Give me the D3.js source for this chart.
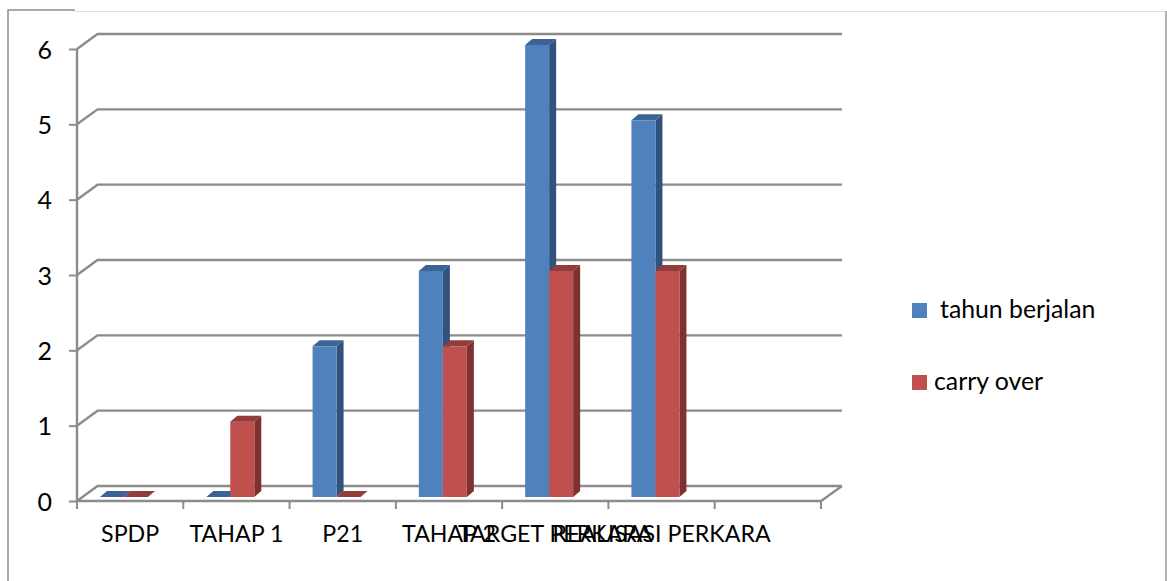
<!DOCTYPE html>
<html>
<head>
<meta charset="utf-8">
<script src="https://cdn.jsdelivr.net/npm/d3@7"></script>
<style>
html, body { margin: 0; padding: 0; background: #fff; overflow: hidden; }
text { font-family: Lato, "Open Sans", sans-serif; fill: #000; }
</style>
</head>
<body>
<svg id="chart"></svg>
<script>
// the last slot on the axis is empty in the original
const categories = ["SPDP", "TAHAP 1", "P21", "TAHAP 2", "TARGET PERKARA", "REALISASI PERKARA", ""];
const tahunBerjalan = [0, 0, 2, 3, 6, 5];
const carryOver = [0, 1, 0, 2, 3, 3];
const seriesNames = ["tahun berjalan", "carry over"];
const yTicks = [0, 1, 2, 3, 4, 5, 6];

const width = 1167;
const height = 581;
const gridColor = "#8c8c8c";
const wallDx = 20.5, wallDy = -15;
const barDx = 7, barDy = -6;

const svg = d3.select("#chart").attr("width", width).attr("height", height);

// frame of the pasted chart
svg.append("path").attr("d", "M8,581V10H75").attr("fill", "none").attr("stroke", "#8f8f8f").attr("stroke-width", 1.5);
svg.append("path").attr("d", "M75,11.5H1166").attr("fill", "none").attr("stroke", "#dedede").attr("stroke-width", 1);
svg.append("line").attr("x1", 1166).attr("x2", 1166).attr("y1", 11).attr("y2", height).attr("stroke", "#9a9a9a").attr("stroke-width", 1.5);

const x = d3.scaleBand().domain(d3.range(categories.length)).range([77, 821]);
const x1 = d3.scaleBand().domain(seriesNames).range([23, 71]);
const y = d3.scaleLinear().domain([0, 6]).range([501, 49]);
const barLift = -4;

// gridlines on the back wall and the slanted side wall
const grid = svg.append("g").attr("fill", "none").attr("stroke", gridColor).attr("stroke-width", 2.4);
yTicks.forEach(t => {
    grid.append("path")
        .attr("d", `M77,${y(t)}L${77 + wallDx},${y(t) + wallDy}H842`);
});
grid.append("path").attr("d", `M77,${y(0)}H821L842,${y(0) + wallDy}`);

// axes
const yAxis = svg.append("g")
    .attr("transform", "translate(77,0)")
    .call(d3.axisLeft(y).tickValues(yTicks).tickFormat(d3.format("d")).tickSize(8).tickPadding(17));
yAxis.selectAll("line").attr("stroke", gridColor).attr("stroke-width", 2);
yAxis.select(".domain").attr("stroke", gridColor).attr("stroke-width", 2.4).attr("d", `M0,${y(6)}V${y(0)}`);
yAxis.selectAll("text").style("font-size", "25px").attr("dy", "0.36em");

const xAxis = svg.append("g")
    .attr("transform", `translate(0,${y(0)})`)
    .call(d3.axisBottom(x).tickFormat(i => categories[i]).tickSize(0).tickPadding(25));
xAxis.select(".domain").remove();
xAxis.selectAll("text").style("font-size", "23.2px");

svg.append("g").selectAll("line")
    .data(d3.range(categories.length + 1))
    .join("line")
    .attr("x1", i => x(0) + i * x.step())
    .attr("x2", i => x(0) + i * x.step())
    .attr("y1", y(0))
    .attr("y2", y(0) + 8)
    .attr("stroke", gridColor)
    .attr("stroke-width", 2);

// 3d bars: blue series first so that the red front face covers its side
const series = [
    { name: seriesNames[0], values: tahunBerjalan, front: "#4f81bd", side: "#30527c", top: "#3a6396" },
    { name: seriesNames[1], values: carryOver, front: "#c0504d", side: "#7d3230", top: "#933c39" }
];

series.forEach(s => {
    const g = svg.append("g");
    s.values.forEach((v, i) => {
        const left = x(i) + x1(s.name);
        const right = left + x1.bandwidth();
        const top = y(v) + barLift;
        const bottom = y(0) + barLift;
        if (v > 0) {
            g.append("path")
                .attr("d", `M${right},${top}l${barDx},${barDy}V${bottom + barDy}l${-barDx},${-barDy}Z`)
                .attr("fill", s.side);
            g.append("rect")
                .attr("x", left).attr("y", top)
                .attr("width", right - left).attr("height", bottom - top)
                .attr("fill", s.front);
        }
        g.append("path")
            .attr("d", `M${left},${top}l${barDx},${barDy}H${right + barDx}l${-barDx},${-barDy}Z`)
            .attr("fill", s.top);
    });
});

// legend
const legendRows = [
    { swatchY: 303, textX: 940, baseline: 318 },
    { swatchY: 375, textX: 934, baseline: 390 }
];
series.forEach((s, i) => {
    svg.append("rect")
        .attr("x", 912).attr("y", legendRows[i].swatchY)
        .attr("width", 15).attr("height", 15)
        .attr("fill", s.front);
    svg.append("text")
        .attr("x", legendRows[i].textX).attr("y", legendRows[i].baseline)
        .style("font-size", "24.8px")
        .text(s.name);
});
</script>
</body>
</html>
